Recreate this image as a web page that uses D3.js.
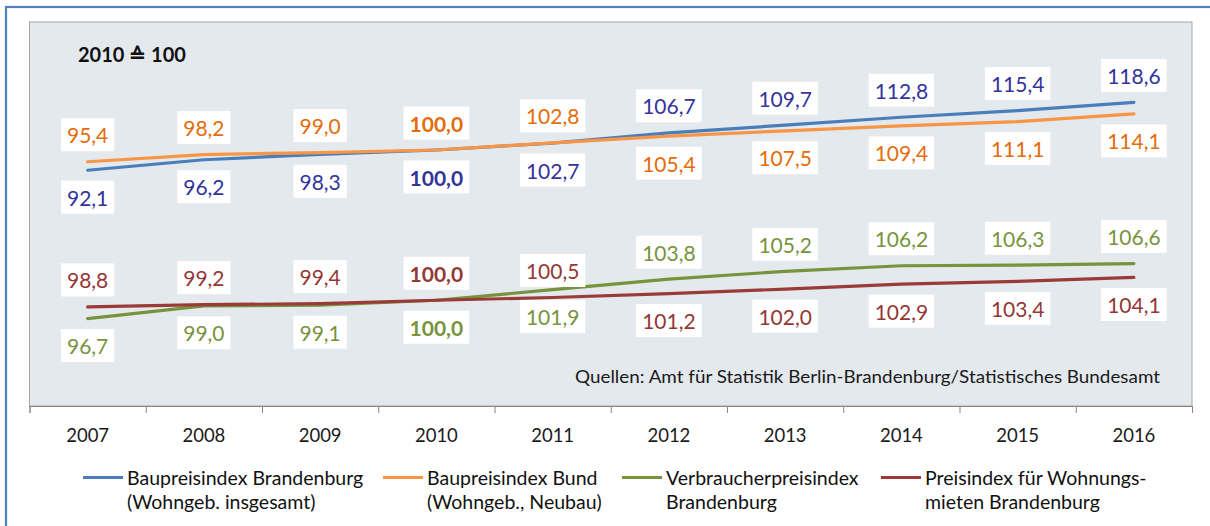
<!DOCTYPE html>
<html>
<head>
<meta charset="utf-8">
<script src="https://cdn.jsdelivr.net/npm/d3@7"></script>
<style>
  body { margin: 0; background: #fff; }
  svg { display: block; font-family: Lato, "Open Sans", sans-serif; }
</style>
</head>
<body>
<svg id="chart" width="1210" height="526"></svg>
<script>
const years = [2007, 2008, 2009, 2010, 2011, 2012, 2013, 2014, 2015, 2016];
const bauBB = [92.1, 96.2, 98.3, 100.0, 102.7, 106.7, 109.7, 112.8, 115.4, 118.6];
const bauBund = [95.4, 98.2, 99.0, 100.0, 102.8, 105.4, 107.5, 109.4, 111.1, 114.1];
const vpiBB = [96.7, 99.0, 99.1, 100.0, 101.9, 103.8, 105.2, 106.2, 106.3, 106.6];
const mietBB = [98.8, 99.2, 99.4, 100.0, 100.5, 101.2, 102.0, 102.9, 103.4, 104.1];
const baseYear = 2010;
const switchYear = 2012;

const seriesNames = [
  ["Baupreisindex Brandenburg", "(Wohngeb. insgesamt)"],
  ["Baupreisindex Bund", "(Wohngeb., Neubau)"],
  ["Verbraucherpreisindex", "Brandenburg"],
  ["Preisindex für Wohnungs-", "mieten Brandenburg"]
];

const svg = d3.select("#chart");
const W = 1210, H = 526;
const plot = { left: 29.5, right: 1192, top: 22, bottom: 406 };

// outer frame
svg.append("rect")
  .attr("x", 6).attr("y", 7).attr("width", W + 10).attr("height", H + 10)
  .attr("fill", "none").attr("stroke", "#4f81bd").attr("stroke-width", 2.2);

// plot area
svg.append("rect")
  .attr("x", plot.left).attr("y", plot.top)
  .attr("width", plot.right - plot.left).attr("height", plot.bottom - plot.top)
  .attr("fill", "#e4e9ee").attr("stroke", "#a6a6a6").attr("stroke-width", 1);

const x = d3.scaleBand().domain(years).range([plot.left, plot.right]).paddingInner(0);
const cx = (yr) => x(yr) + x.bandwidth() / 2;
// two value axes (neither drawn)
const yMain = d3.scaleLinear().domain([0, 150]).range([plot.bottom, plot.top]);
const ySec = d3.scaleLinear().domain([81, 150]).range([plot.bottom, plot.top]);

const de = d3.formatLocale({ decimal: ",", thousands: ".", grouping: [3], currency: ["", " €"] });
const fmt = de.format(".1f");

const series = [
  { values: bauBB, y: yMain, line: "#4a7ebb", text: "#33339a", before: "below", after: "above" },
  { values: bauBund, y: yMain, line: "#f79646", text: "#e46c0a", before: "above", after: "below" },
  { values: vpiBB, y: ySec, line: "#77933c", text: "#77933c", before: "below", after: "above" },
  { values: mietBB, y: ySec, line: "#9b3b38", text: "#953735", before: "above", after: "below" }
];

// x axis: ticks between categories
const tickScale = d3.scaleLinear().domain([0, years.length]).range([plot.left, plot.right]);
const tickAxis = svg.append("g")
  .attr("transform", `translate(0,${plot.bottom})`)
  .call(d3.axisBottom(tickScale).ticks(years.length).tickSize(7).tickFormat(""));
tickAxis.selectAll("line").attr("stroke", "#868686");
tickAxis.select(".domain").attr("stroke", "#868686");

const labelAxis = svg.append("g")
  .attr("transform", `translate(0,${plot.bottom})`)
  .call(d3.axisBottom(x).tickSize(0).tickPadding(23));
labelAxis.select(".domain").remove();
labelAxis.selectAll("text")
  .attr("font-family", "Lato, sans-serif").attr("font-size", 18.5).attr("fill", "#1a1a1a");

// lines
series.forEach((s) => {
  const line = d3.line().x((d, i) => cx(years[i])).y((d) => s.y(d));
  svg.append("path")
    .datum(s.values)
    .attr("d", line)
    .attr("fill", "none")
    .attr("stroke", s.line)
    .attr("stroke-width", 3.2)
    .attr("stroke-linecap", "round")
    .attr("stroke-linejoin", "round");
});

// data labels
series.forEach((s) => {
  s.values.forEach((v, i) => {
    const yr = years[i];
    const pos = yr < switchYear ? s.before : s.after;
    const yc = s.y(v) + (pos === "above" ? -27 : 27);
    const g = svg.append("g");
    const t = g.append("text")
      .attr("x", cx(yr)).attr("y", yc)
      .attr("text-anchor", "middle")
      .attr("dominant-baseline", "central")
      .attr("font-size", 21)
      .attr("font-weight", yr === baseYear ? "bold" : "normal")
      .attr("fill", s.text)
      .text(fmt(v));
    const w = t.node().getComputedTextLength() + 12;
    g.insert("rect", "text")
      .attr("x", cx(yr) - w / 2).attr("y", yc - 16.5)
      .attr("width", w).attr("height", 33)
      .attr("fill", "#fff");
  });
});

// base note
svg.append("text")
  .attr("x", 78).attr("y", 62)
  .attr("font-size", 20).attr("font-weight", "bold").attr("fill", "#111")
  .text("2010 ≙ 100");

// source
svg.append("text")
  .attr("x", 575).attr("y", 383)
  .attr("font-size", 16.5).attr("fill", "#1a1a1a")
  .attr("textLength", 585).attr("lengthAdjust", "spacingAndGlyphs")
  .text("Quellen: Amt für Statistik Berlin-Brandenburg/Statistisches Bundesamt");

// legend
const legendX = [83, 383, 622, 881];
const legend = svg.append("g");
series.forEach((s, i) => {
  const gx = legendX[i];
  legend.append("line")
    .attr("x1", gx).attr("x2", gx + 40)
    .attr("y1", 477.5).attr("y2", 477.5)
    .attr("stroke", s.line).attr("stroke-width", 3.2);
  const t = legend.append("text")
    .attr("x", gx + 44).attr("y", 484.5)
    .attr("font-size", 19.5).attr("fill", "#111");
  t.selectAll("tspan")
    .data(seriesNames[i])
    .join("tspan")
    .attr("x", gx + 44)
    .attr("dy", (d, j) => (j === 0 ? 0 : 24.5))
    .text((d) => d);
});
</script>
</body>
</html>
